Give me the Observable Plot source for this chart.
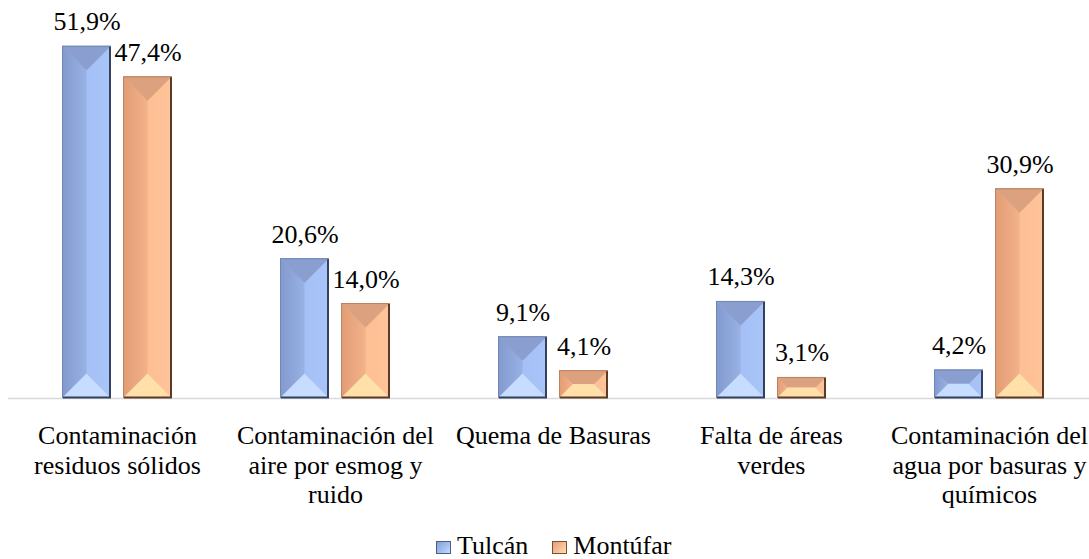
<!DOCTYPE html>
<html><head><meta charset="utf-8">
<script src="https://cdn.jsdelivr.net/npm/d3@7"></script>
<script src="https://cdn.jsdelivr.net/npm/@observablehq/plot@0.6"></script>
<style>
body{margin:0;background:#fff;overflow:hidden;font-family:"Liberation Serif",Tinos,"Times New Roman",Times,"DejaVu Serif",serif;}
#chart{position:relative;width:1089px;height:559px;}
#legend{position:absolute;left:436px;top:531px;font-size:26px;line-height:30px;white-space:nowrap;color:#000;font-family:"Liberation Serif",Tinos,"Times New Roman",Times,"DejaVu Serif",serif;}
.item{display:inline-block;}
.item + .item{margin-left:24px;}
.sw{display:inline-block;width:15px;height:13px;margin-right:6px;box-sizing:border-box;vertical-align:baseline;}
</style></head><body><div id="chart"></div>
<script>
const categories = [
  "Contaminación residuos sólidos",
  "Contaminación del aire por esmog y ruido",
  "Quema de Basuras",
  "Falta de áreas verdes",
  "Contaminación del agua por basuras y químicos"
];
const tickLabels = [
  "Contaminación\nresiduos sólidos",
  "Contaminación del\naire por esmog y\nruido",
  "Quema de Basuras",
  "Falta de áreas\nverdes",
  "Contaminación del\nagua por basuras y\nquímicos"
];
const seriesNames = ["Tulcán", "Montúfar"];
const tulcanValues = [51.9, 20.6, 9.1, 14.3, 4.2];
const montufarValues = [47.4, 14.0, 4.1, 3.1, 30.9];

const rowsT = categories.map((c, i) => ({category: c, series: seriesNames[0], value: tulcanValues[i]}));
const rowsM = categories.map((c, i) => ({category: c, series: seriesNames[1], value: montufarValues[i]}));

const fmt = v => v.toFixed(1).replace(".", ",") + "%";
const FONT = '"Liberation Serif", Tinos, "Times New Roman", Times, "DejaVu Serif", serif';

const palette = {
  "#95afe2": {id: "t", top: "#8a9fd0", leftA: "#8299cc", leftB: "#98b2e6", rightA: "#a4c0f6", rightB: "#a9c4f8", bottom: "#c6ddff", edge: "#7086b6", dark: "#33415e"},
  "#f2ae85": {id: "m", top: "#dca27f", leftA: "#e29c74", leftB: "#f3b28a", rightA: "#fdbf94", rightB: "#ffc49a", bottom: "#ffe0a9", edge: "#b98262", dark: "#5b3b27"}
};

const chart = Plot.plot({
  width: 1089,
  height: 530,
  marginTop: 18,
  marginBottom: 132,
  marginLeft: 8,
  marginRight: 0,
  style: {fontFamily: FONT, fontSize: "26px", background: "transparent", color: "#000"},
  x: {domain: categories, range: [8, 1098], padding: 0},
  y: {domain: [0, 56], axis: null},
  marks: [
    Plot.ruleY([0], {stroke: "#d9d9d9", strokeWidth: 1.5}),
    Plot.barY(rowsT, {x: "category", y: "value", fill: "#95afe2", insetLeft: 54, insetRight: 115}),
    Plot.barY(rowsM, {x: "category", y: "value", fill: "#f2ae85", insetLeft: 115, insetRight: 54}),
    Plot.text(rowsT, {x: "category", y: "value", text: d => fmt(d.value), dx: -30.5, dy: -16, lineAnchor: "bottom", fontSize: 26, fill: "#000", fontFamily: FONT}),
    Plot.text(rowsM, {x: "category", y: "value", text: d => fmt(d.value), dx: 30.5, dy: -16, lineAnchor: "bottom", fontSize: 26, fill: "#000", fontFamily: FONT}),
    Plot.axisX({tickSize: 0, tickPadding: 25, tickFormat: d => tickLabels[categories.indexOf(d)], fontSize: 26, lineHeight: 1.13, fill: "#000", fontFamily: FONT, label: null})
  ]
});

document.getElementById("chart").appendChild(chart);

// gradients for the bevelled bar faces
const svg = d3.select(chart);
const defs = svg.insert("defs", ":first-child");
for (const pal of Object.values(palette)) {
  const gl = defs.append("linearGradient").attr("id", `gl-${pal.id}`).attr("x1", "0").attr("x2", "1").attr("y1", "0").attr("y2", "0");
  gl.append("stop").attr("offset", "0").attr("stop-color", pal.leftA);
  gl.append("stop").attr("offset", "1").attr("stop-color", pal.leftB);
  const gr = defs.append("linearGradient").attr("id", `gr-${pal.id}`).attr("x1", "0").attr("x2", "1").attr("y1", "0").attr("y2", "0");
  gr.append("stop").attr("offset", "0").attr("stop-color", pal.rightA);
  gr.append("stop").attr("offset", "1").attr("stop-color", pal.rightB);
}

// bevel decoration derived from the rects Plot drew
svg.selectAll("g[aria-label='bar']").each(function() {
  const g = d3.select(this);
  const pal = palette[(g.attr("fill") || "").toLowerCase()];
  if (!pal) return;
  g.selectAll("rect").each(function() {
    const r = d3.select(this);
    const x0 = +r.attr("x"), y0 = +r.attr("y"), w = +r.attr("width"), h = +r.attr("height");
    const x1 = x0 + w, y1 = y0 + h, k = Math.min(w, h) / 2;
    const A = [x0 + k, y0 + k], B = [x1 - k, y0 + k], C = [x1 - k, y1 - k], D = [x0 + k, y1 - k];
    const facets = [
      [[[x0, y1], [x0, y0], A, D], `url(#gl-${pal.id})`],
      [[[x1, y0], [x1, y1], C, B], `url(#gr-${pal.id})`],
      [[[x0, y0], [x1, y0], B, A], pal.top],
      [[[x1, y1], [x0, y1], D, C], pal.bottom]
    ];
    for (const [pts, col] of facets) {
      g.append("polygon").attr("points", pts.map(p => p.join(",")).join(" ")).attr("fill", col);
    }
    g.append("rect").attr("x", x0 + 0.5).attr("y", y0 + 0.5).attr("width", w - 1).attr("height", h - 1)
      .attr("fill", "none").attr("stroke", pal.edge).attr("stroke-width", 1);
    g.append("path").attr("d", `M${x1 - 1},${y0 + 1}V${y1 - 0.5}H${x0 + 1}`)
      .attr("fill", "none").attr("stroke", pal.dark).attr("stroke-width", 2);
  });
});

// legend
const legend = document.createElement("div");
legend.id = "legend";
const swatchStyle = {
  "Tulcán": "background:linear-gradient(135deg,#8a9fd0 0%,#a6c1f4 60%,#c6ddff 100%);border:1px solid #4a5d86;",
  "Montúfar": "background:linear-gradient(135deg,#dca27f 0%,#fcc096 60%,#ffe0a9 100%);border:1px solid #7a5036;"
};
legend.innerHTML = seriesNames.map(s => `<span class="item"><span class="sw" style="${swatchStyle[s]}"></span>${s}</span>`).join("");
document.getElementById("chart").appendChild(legend);
</script>
</body></html>
